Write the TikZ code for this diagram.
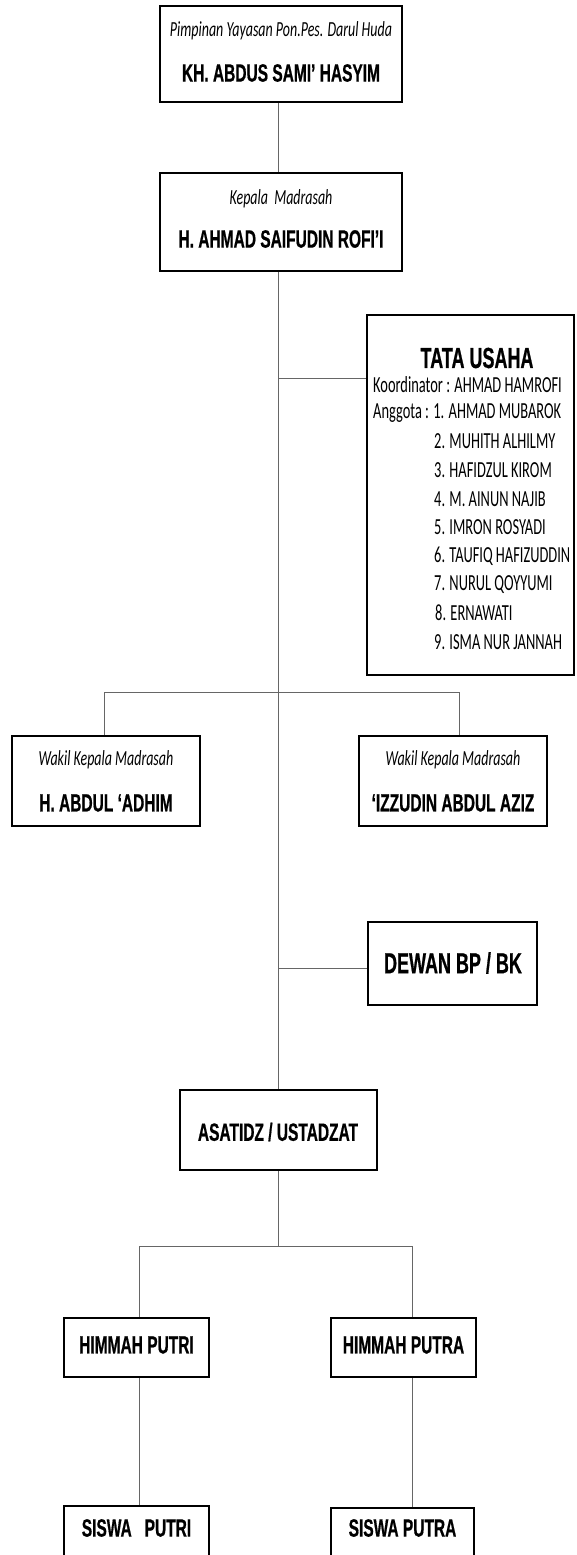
\documentclass[tikz,border=0pt]{standalone}
\usepackage{fontspec}
\newfontfamily\hbfont{Liberation Sans Bold}[FakeStretch=0.62,FakeBold=0.6]
\newfontfamily\cifont{Carlito Italic}[FakeStretch=0.65]
\newfontfamily\crfont{Carlito}[FakeStretch=0.627]
\begin{document}
\begin{tikzpicture}[x=1pt,y=-1pt,
  bx/.style={draw=black,line width=2pt,inner sep=0pt},
  conn/.style={draw=black!60,line width=1pt},
  it/.style={font=\cifont\fontsize{21.5}{23}\selectfont,inner sep=0pt},
  bd/.style={font=\hbfont\fontsize{25}{27}\selectfont,inner sep=0pt},
  bdl/.style={font=\hbfont\fontsize{29}{31}\selectfont,inner sep=0pt},
  tu/.style={font=\crfont\fontsize{23}{25}\selectfont,inner sep=0pt,anchor=west}]
\clip (0,0) rectangle (576,1555);
\fill[white] (0,0) rectangle (576,1555);
% trunk and junction coordinates
\coordinate (tr) at (278,0);
\coordinate (v1) at (104,0);
\coordinate (v2) at (459,0);
\coordinate (h1) at (139,0);
\coordinate (h2) at (412,0);
% boxes
\node[bx,minimum width=242pt,minimum height=96pt] (A) at (281,54) {};
\node[it] (Aa) at (281,31) {Pimpinan Yayasan Pon.Pes. Darul Huda};
\node[bd] (Ab) at (281,73) {KH. ABDUS SAMI’ HASYIM};
\node[bx,minimum width=242pt,minimum height=98pt] (B) at (281,222) {};
\node[it] (Ba) at (281,199) {Kepala\ \ Madrasah};
\node[bd] (Bb) at (281,239) {H. AHMAD SAIFUDIN ROFI’I};
\node[bx,minimum width=207pt,minimum height=360pt] (T) at (470.5,495) {};
\node[bdl] (Tt) at (477,358) {TATA USAHA};
\node[tu] (Tk) at (373,385) {Koordinator : AHMAD HAMROFI};
\node[tu] (T1) at (373,413) {Anggota : 1. AHMAD MUBAROK};
\node[tu] (T2) at (434,441.6) {2. MUHITH ALHILMY};
\node[tu] (T3) at (434,470.2) {3. HAFIDZUL KIROM};
\node[tu] (T4) at (434,498.8) {4. M. AINUN NAJIB};
\node[tu] (T5) at (434,527.4) {5. IMRON ROSYADI};
\node[tu] (T6) at (434,556) {6. TAUFIQ HAFIZUDDIN};
\node[tu] (T7) at (434,584.6) {7. NURUL QOYYUMI};
\node[tu] (T8) at (435,613.2) {8. ERNAWATI};
\node[tu] (T9) at (434,641.8) {9. ISMA NUR JANNAH};
\node[bx,minimum width=188pt,minimum height=90pt] (W1) at (106,781) {};
\node[it] (W1a) at (106,760) {Wakil Kepala Madrasah};
\node[bd] (W1b) at (106,803) {H. ABDUL ‘ADHIM};
\node[bx,minimum width=188pt,minimum height=90pt] (W2) at (453,781) {};
\node[it] (W2a) at (453,760) {Wakil Kepala Madrasah};
\node[bd] (W2b) at (453,803) {‘IZZUDIN ABDUL AZIZ};
\node[bx,minimum width=169pt,minimum height=83pt] (D) at (452.5,963.5) {};
\node[bdl] (Dt) at (453,963) {DEWAN BP / BK};
\node[bx,minimum width=197pt,minimum height=80pt] (S) at (278.5,1130) {};
\node[bd] (St) at (278,1132) {ASATIDZ / USTADZAT};
\node[bx,minimum width=145pt,minimum height=59pt] (H1) at (136.5,1347.5) {};
\node[bd] (H1t) at (136.5,1345) {HIMMAH PUTRI};
\node[bx,minimum width=145pt,minimum height=59pt] (H2) at (403.5,1347.5) {};
\node[bd] (H2t) at (403.5,1345) {HIMMAH PUTRA};
\node[bx,minimum width=145pt,minimum height=80pt] (P1) at (136.5,1546) {};
\node[bd] (P1t) at (136.5,1528) {SISWA\ \ \ PUTRI};
\node[bx,minimum width=143pt,minimum height=80pt] (P2) at (402.5,1548) {};
\node[bd] (P2t) at (402.5,1528) {SISWA PUTRA};
% connectors
\coordinate (tj) at (278,378);
\coordinate (wj) at (278,692);
\coordinate (dj) at (278,968);
\coordinate (hj) at (278,1246);
\draw[conn] (A.south -| tr) -- (B.north -| tr);
\draw[conn] (B.south -| tr) -- (S.north -| tr);
\draw[conn] (tj) -- (tj -| T.west);
\draw[conn] (dj) -- (dj -| D.west);
\draw[conn] (W1.north -| v1) -- (wj -| v1) -- (wj -| v2) -- (W2.north -| v2);
\draw[conn] (S.south -| tr) -- (hj);
\draw[conn] (H1.north -| h1) -- (hj -| h1) -- (hj -| h2) -- (H2.north -| h2);
\draw[conn] (H1.south -| h1) -- (P1.north -| h1);
\draw[conn] (H2.south -| h2) -- (P2.north -| h2);
\end{tikzpicture}
\end{document}
